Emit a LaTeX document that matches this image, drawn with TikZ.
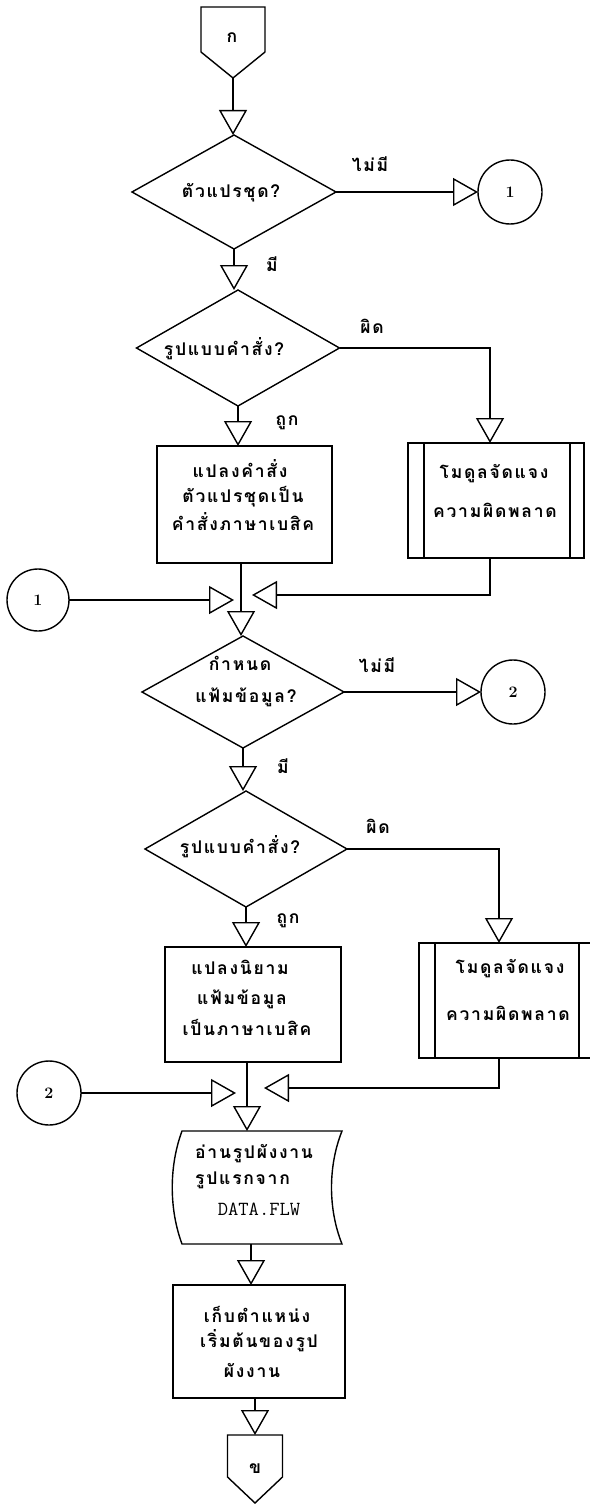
\documentclass[tikz,border=0pt]{standalone}
\usepackage{fontspec}
\newfontfamily\thaifont[Script=Thai,LetterSpace=10]{Loma}
\usetikzlibrary{arrows.meta,shapes.geometric,calc}
\begin{document}
\begin{tikzpicture}[x=1pt,y=-1pt,
  lw/.style={line width=1.4pt},
  flow/.style={lw,-{Triangle[open,length=25pt,width=28pt]}},
  dec/.style={draw,lw,shape=diamond,inner sep=0pt,outer sep=0pt},
  box/.style={draw,lw,rectangle,inner sep=0pt,outer sep=0pt},
  frame/.style={inner sep=0pt,outer sep=0pt},
  conn/.style={draw,lw,circle,inner sep=0pt,outer sep=0pt,minimum size=64pt,font=\bfseries\fontsize{16}{18}\selectfont},
  txt/.style={font=\thaifont\bfseries\fontsize{17.5}{20}\selectfont,inner sep=0pt,anchor=base},
  lat/.style={font=\ttfamily\fontsize{20}{22}\selectfont,inner sep=0pt,anchor=base}]
\useasboundingbox (0,0) rectangle (589,1506);
\fill[white] (0,0) rectangle (589,1506);

% top off-page connector
\node[frame,minimum width=64pt,minimum height=45pt] (ka) at (233,29.5) {};
\coordinate (kaP) at ($(ka.south)+(0,26)$);
\draw[lw] (ka.north west) -- (ka.north east) -- (ka.south east) -- (kaP) -- (ka.south west) -- cycle;
\node[txt] (kat) at (232,43) {ก};

% decision 1
\node[dec,minimum width=204pt,minimum height=114pt] (d1) at (234,192) {};
\node[txt] (d1t) at (231,198) {ตัวแปรชุด?};
\draw[flow] (kaP) -- (kaP |- d1.north);
\node[conn] (c1a) at (510,192) {1};
\draw[flow] (d1.east) -- (c1a.west);
\node[txt] (l1) at (370,172) {ไม่มี};
\node[txt] (l2) at (272,272) {มี};

% decision 2
\node[dec,minimum width=203pt,minimum height=116pt] (d2) at (238,348) {};
\node[txt] (d2t) at (224,355) {รูปแบบคำสั่ง?};
\draw[flow] (d1.south) -- (d1.south |- d2.north);
\node[txt] (l3) at (372,333) {ผิด};
\node[txt] (l4) at (287,425) {ถูก};

% process 1
\node[box,minimum width=175pt,minimum height=117pt] (b1) at (244.5,504.5) {};
\node[txt] (b1a) at (240,477) {แปลงคำสั่ง};
\node[txt] (b1b) at (243,502) {ตัวแปรชุดเป็น};
\node[txt] (b1c) at (243,530) {คำสั่งภาษาเบสิค};
\draw[flow] (d2.south) -- (d2.south |- b1.north);

% predefined process 1
\node[box,minimum width=176pt,minimum height=115pt] (p1) at (496,500.5) {};
\draw[lw] ([xshift=16pt]p1.north west) -- ([xshift=16pt]p1.south west);
\draw[lw] ([xshift=-14pt]p1.north east) -- ([xshift=-14pt]p1.south east);
\node[txt] (p1a) at (494,478) {โมดูลจัดแจง};
\node[txt] (p1b) at (495,517) {ความผิดพลาด};
\draw[flow] (d2.east) -| ([xshift=-6pt]p1.north);

% merge 1
\node[conn,minimum size=62pt] (c1b) at (38,600) {1};
\coordinate (m1L) at (234,600);
\coordinate (m1R) at (252,595);
\coordinate (v1) at (241,0);
\draw[flow] (c1b.east) -- (m1L);
\draw[flow] ([xshift=-6pt]p1.south) |- (m1R);

% decision 3
\node[dec,minimum width=202pt,minimum height=112pt] (d3) at (243,692) {};
\node[txt] (d3a) at (240,670) {กำหนด};
\node[txt] (d3b) at (246,702) {แฟ้มข้อมูล?};
\draw[flow] (v1 |- b1.south) -- (v1 |- d3.north);
\node[conn] (c2a) at (513,692) {2};
\draw[flow] (d3.east) -- (c2a.west);
\node[txt] (l5) at (377,672) {ไม่มี};
\node[txt] (l6) at (283,773) {มี};

% decision 4
\node[dec,minimum width=202pt,minimum height=116pt] (d4) at (246,849) {};
\node[txt] (d4t) at (240,853) {รูปแบบคำสั่ง?};
\draw[flow] (d3.south) -- (d3.south |- d4.north);
\node[txt] (l7) at (378,833) {ผิด};
\node[txt] (l8) at (288,923) {ถูก};

% process 2
\node[box,minimum width=176pt,minimum height=115pt] (b2) at (253,1004.5) {};
\node[txt] (b2a) at (240,974) {แปลงนิยาม};
\node[txt] (b2b) at (242,1004) {แฟ้มข้อมูล};
\node[txt] (b2c) at (247,1035) {เป็นภาษาเบสิค};
\draw[flow] (d4.south) -- (d4.south |- b2.north);

% predefined process 2
\node[box,minimum width=174pt,minimum height=115pt] (p2) at (506,1000.5) {};
\draw[lw] ([xshift=16pt]p2.north west) -- ([xshift=16pt]p2.south west);
\draw[lw] ([xshift=-14pt]p2.north east) -- ([xshift=-14pt]p2.south east);
\node[txt] (p2a) at (510,973) {โมดูลจัดแจง};
\node[txt] (p2b) at (508,1020) {ความผิดพลาด};
\draw[flow] (d4.east) -| ([xshift=-7pt]p2.north);

% merge 2
\node[conn] (c2b) at (49,1093) {2};
\coordinate (m2L) at (236,1093);
\coordinate (m2R) at (264,1088);
\coordinate (v2) at (247,0);
\draw[flow] (c2b.east) -- (m2L);
\draw[flow] ([xshift=-7pt]p2.south) |- (m2R);

% input (read) shape
\node[frame,minimum width=160pt,minimum height=113pt] (doc) at (262,1187.5) {};
\draw[lw] (doc.north west) -- (doc.north east)
  .. controls ($(doc.north east)+(-14,35)$) and ($(doc.south east)+(-14,-35)$) .. (doc.south east)
  -- (doc.south west)
  .. controls ($(doc.south west)+(-13,-35)$) and ($(doc.north west)+(-13,35)$) .. (doc.north west) -- cycle;
\node[txt,anchor=base west] (da) at (195,1158) {อ่านรูปผังงาน};
\node[txt,anchor=base west] (db) at (195,1184) {รูปแรกจาก};
\node[lat] (dc) at (259,1215) {DATA.FLW};
\draw[flow] (v2 |- b2.south) -- (v2 |- doc.north);

% process 3
\node[box,minimum width=172pt,minimum height=113pt] (b3) at (259,1341.5) {};
\node[txt] (b3a) at (257,1322) {เก็บตำแหน่ง};
\node[txt] (b3b) at (259,1347) {เริ่มต้นของรูป};
\node[txt] (b3c) at (252,1377) {ผังงาน};
\coordinate (v3) at (251,0);
\draw[flow] (v3 |- doc.south) -- (v3 |- b3.north);

% bottom off-page connector
\node[frame,minimum width=55pt,minimum height=42pt] (kb) at (255,1456) {};
\coordinate (kbP) at ($(kb.south)+(0,26)$);
\draw[lw] (kb.north west) -- (kb.north east) -- (kb.south east) -- (kbP) -- (kb.south west) -- cycle;
\node[txt] (kbt) at (255,1473) {ข};
\coordinate (v4) at (255,0);
\draw[flow] (v4 |- b3.south) -- (v4 |- kb.north);
\end{tikzpicture}
\end{document}
